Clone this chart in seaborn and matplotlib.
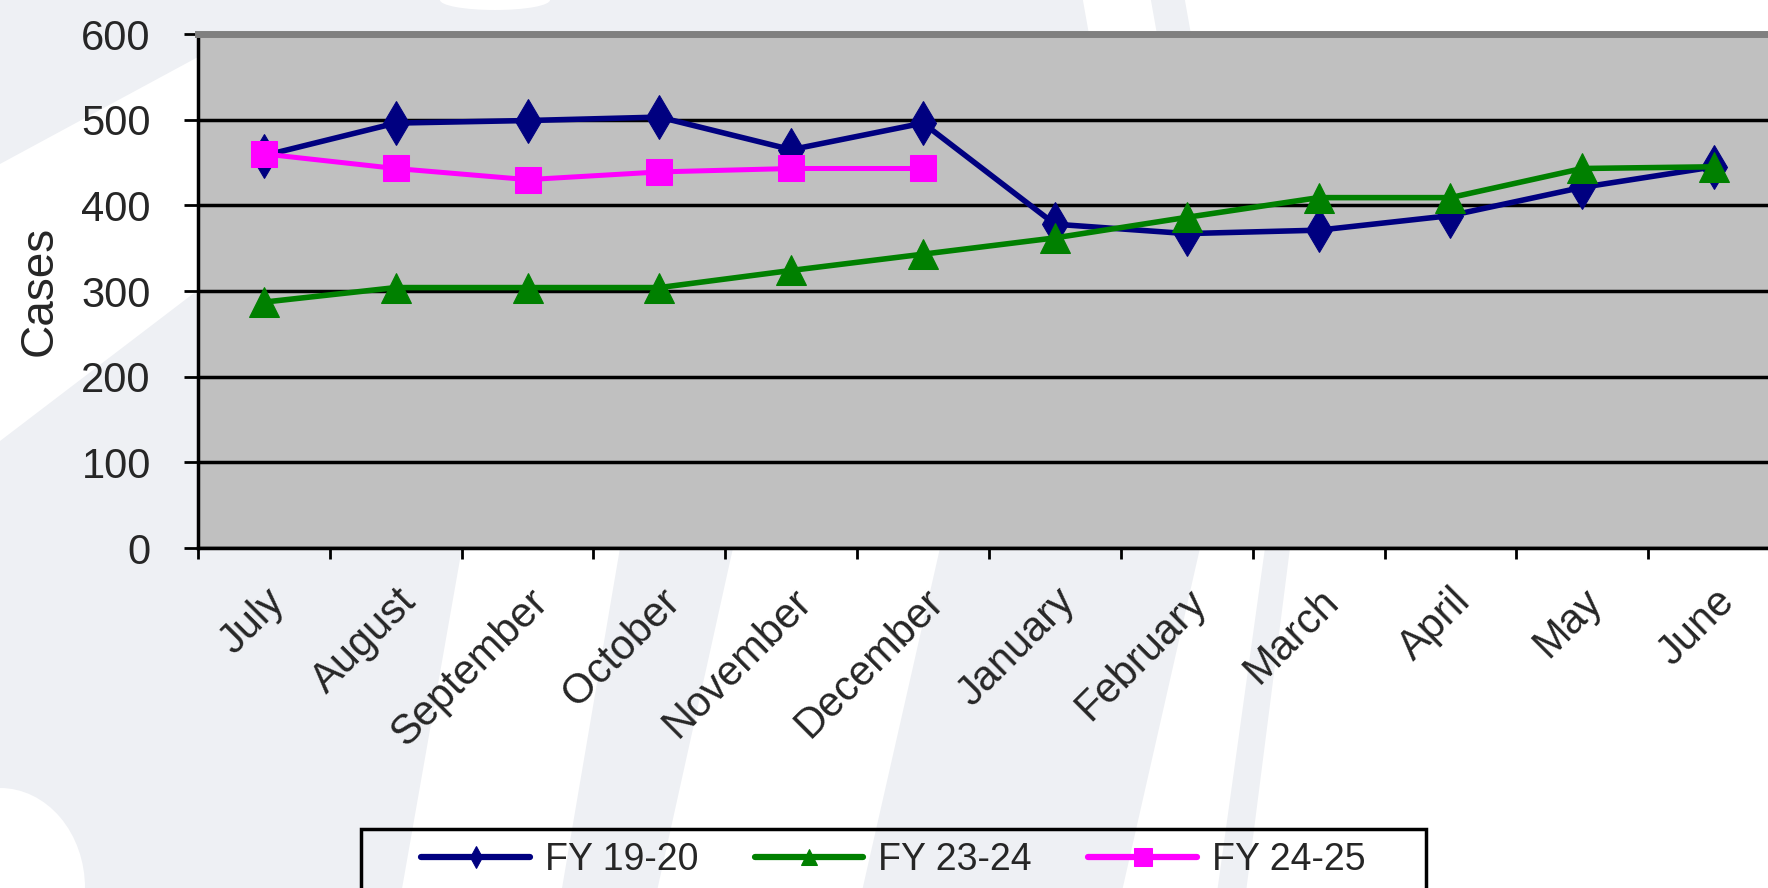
import matplotlib
matplotlib.use("Agg")
import matplotlib.pyplot as plt
from matplotlib.patches import Polygon, Ellipse, Rectangle
from matplotlib.transforms import IdentityTransform
import numpy as np
import pandas as pd
import seaborn as sns

months = ["July", "August", "September", "October", "November", "December",
          "January", "February", "March", "April", "May", "June"]
fy_19_20 = [458, 496, 499, 503, 465, 496, 378, 367, 371, 388, 421, 445]
fy_23_24 = [287, 304, 304, 304, 324, 343, 362, 386, 409, 409, 443, 445]
fy_24_25 = [460, 443, 430, 439, 443, 443]

W, H = 1768, 888

sns.set_style("white")
plt.rcParams['font.family'] = ['Liberation Sans', 'DejaVu Sans']

fig = plt.figure(figsize=(W / 100, H / 100), dpi=100)
fig.patch.set_facecolor('#EEF0F4')


def px(points):
    # pixel coords measured from the top-left corner
    return [(x, H - y) for x, y in points]


# watermark swoosh behind the chart (white bands on light grey)
bands = [
    [(0, 164), (198, 57), (700, 57), (700, 300), (198, 290), (0, 441)],
    [(462, 548), (620, 548), (560, 900), (400, 900)],
    [(733, 548), (940, 548), (860, 900), (655, 900)],
    [(1200, 548), (1265, 548), (1216, 900), (1120, 900)],
    [(1290, 548), (W, 548), (W, 900), (1245, 900)],
    [(1082, -5), (1150, -5), (1158, 40), (1090, 40)],
    [(1184, -5), (W, -5), (W, 40), (1192, 40)],
]
for b in bands:
    fig.add_artist(Polygon(px(b), closed=True, facecolor='white', edgecolor='none',
                           transform=IdentityTransform(), zorder=-10))
fig.add_artist(Ellipse((0, 0), 170, 200, facecolor='white', edgecolor='none',
                       transform=IdentityTransform(), zorder=-10))
fig.add_artist(Ellipse((495, H), 110, 20, facecolor='white', edgecolor='none',
                       transform=IdentityTransform(), zorder=-10))

ax = fig.add_axes([198 / W, 1 - 548 / H, 1582 / W, 514 / H])
ax.set_facecolor('#C0C0C0')

df1 = pd.DataFrame({"month": months, "cases": fy_19_20})
df2 = pd.DataFrame({"month": months, "cases": fy_23_24})
df3 = pd.DataFrame({"month": months[:len(fy_24_25)], "cases": fy_24_25})

sns.lineplot(data=df1, x="month", y="cases", color="#000080", marker="d", markersize=22,
             markeredgecolor="#000080", linewidth=4, label="FY 19-20", ax=ax, zorder=3)
sns.lineplot(data=df2, x="month", y="cases", color="#008000", marker="^", markersize=21,
             markeredgecolor="#008000", linewidth=4, label="FY 23-24", ax=ax, zorder=4)
sns.lineplot(data=df3, x="month", y="cases", color="#FF00FF", marker="s", markersize=19,
             markeredgecolor="#FF00FF", linewidth=3.6, label="FY 24-25", ax=ax, zorder=5)

ax.set_ylim(0, 600)
ax.set_xlim(-0.5, 11.5)
ax.set_yticks(range(0, 601, 100))
ax.yaxis.grid(True, color='black', linewidth=2.5)
ax.xaxis.grid(False)
ax.set_axisbelow(True)

ax.set_xticks(np.arange(-0.5, 12, 1))
ax.set_xticklabels([])
ax.set_xticks(range(12), minor=True)
ax.set_xticklabels(months, minor=True, rotation=45, ha='right', rotation_mode='anchor',
                   fontsize=30)
ax.tick_params(axis='x', which='major', direction='out', length=8, width=2, color='black',
               bottom=True)
ax.tick_params(axis='x', which='minor', length=0, pad=24)
ax.tick_params(axis='y', direction='out', length=10, width=2, color='black', left=True,
               labelsize=30, pad=24)

ax.set_xlabel("")
ax.set_ylabel("Cases", fontsize=33, labelpad=14)

for s in ['left', 'bottom']:
    ax.spines[s].set_color('black')
    ax.spines[s].set_linewidth(2.5)
ax.spines['top'].set_color('#808080')
ax.spines['top'].set_linewidth(5)
ax.spines['right'].set_visible(False)

leg = ax.legend(loc='upper left', bbox_to_anchor=(408 / W, 1 - 829 / H),
                bbox_transform=fig.transFigure, ncol=3, fontsize=27, frameon=False,
                handlelength=2.9, handletextpad=0.4, columnspacing=1.5,
                borderpad=0.35, borderaxespad=0)
for line, ms in zip(leg.get_lines(), [11, 11, 13]):
    line.set_markersize(ms)
    line.set_linewidth(4.5)
fig.add_artist(Rectangle((361, -20), 1065, H - 829 + 20, facecolor='none',
                         edgecolor='black', linewidth=2.5, transform=IdentityTransform()))

fig.savefig("out.png", dpi=100, facecolor=fig.get_facecolor())
